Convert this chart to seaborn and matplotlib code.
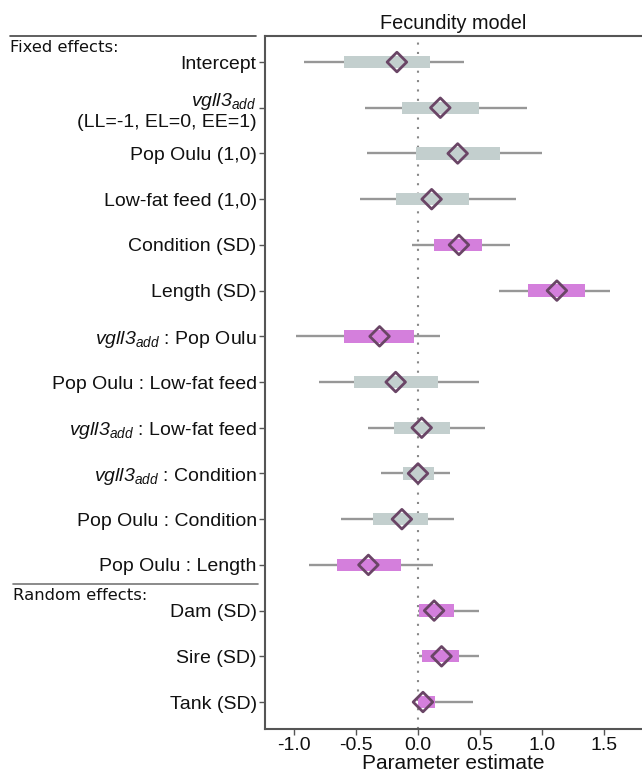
import matplotlib
matplotlib.use("Agg")
import matplotlib.pyplot as plt
import seaborn as sns
import pandas as pd
import numpy as np
from matplotlib.lines import Line2D

labels = [
    "Intercept",
    "$vgll3_{add}$\n(LL=-1, EL=0, EE=1)",
    "Pop Oulu (1,0)",
    "Low-fat feed (1,0)",
    "Condition (SD)",
    "Length (SD)",
    "$vgll3_{add}$ : Pop Oulu",
    "Pop Oulu : Low-fat feed",
    "$vgll3_{add}$ : Low-fat feed",
    "$vgll3_{add}$ : Condition",
    "Pop Oulu : Condition",
    "Pop Oulu : Length",
    "Dam (SD)",
    "Sire (SD)",
    "Tank (SD)",
]
estimate = [-0.17, 0.18, 0.32, 0.11, 0.33, 1.12, -0.31, -0.18, 0.03, 0.00, -0.13, -0.40, 0.13, 0.19, 0.04]
ci95_low = [-0.92, -0.43, -0.41, -0.47, -0.05, 0.65, -0.98, -0.80, -0.40, -0.30, -0.62, -0.88, 0.00, 0.01, 0.00]
ci95_high = [0.37, 0.88, 1.00, 0.79, 0.74, 1.55, 0.18, 0.49, 0.54, 0.26, 0.29, 0.12, 0.49, 0.49, 0.44]
ci50_low = [-0.60, -0.13, -0.02, -0.18, 0.13, 0.89, -0.60, -0.52, -0.19, -0.12, -0.36, -0.65, 0.01, 0.03, 0.00]
ci50_high = [0.10, 0.49, 0.66, 0.41, 0.52, 1.35, -0.03, 0.16, 0.26, 0.13, 0.08, -0.14, 0.29, 0.33, 0.14]
significant = [False, False, False, False, True, True, True, False, False, False, False, True, True, True, True]
xticks = [-1.0, -0.5, 0.0, 0.5, 1.0, 1.5]

sns.set_theme(style="ticks")
plt.rcParams['font.family'] = ['Liberation Sans', 'DejaVu Sans']
plt.rcParams['mathtext.fontset'] = 'custom'
plt.rcParams['mathtext.rm'] = 'Liberation Sans:italic'
plt.rcParams['mathtext.it'] = 'Liberation Sans:italic'
plt.rcParams['mathtext.default'] = 'it'

df = pd.DataFrame({
    "label": labels, "est": estimate, "lo95": ci95_low, "hi95": ci95_high,
    "lo50": ci50_low, "hi50": ci50_high, "sig": significant,
})
df["pos"] = np.arange(len(df))

grey_box = "#C3CFCE"
pink_box = "#D47FDC"
whisker_c = "#979797"
diamond_c = "#6A4566"
spine_c = "#555555"

fig = plt.figure(figsize=(6.42, 7.73), dpi=100)
ax = fig.add_axes([265 / 642, 1 - 729 / 773, 1 - 265 / 642, (729 - 36) / 773])

ax.axvline(0, color="#888888", lw=1.5, ls=(0, (1, 3.5)), zorder=1)
ax.hlines(df["pos"], df["lo95"], df["hi95"], color=whisker_c, lw=1.7, zorder=2)
ax.barh(df["pos"], df["hi50"] - df["lo50"], left=df["lo50"], height=0.27,
        color=[pink_box if s else grey_box for s in df["sig"]], zorder=3, linewidth=0)
sns.scatterplot(data=df, x="est", y="pos", marker="D", s=100, facecolor="none",
                edgecolor=diamond_c, linewidth=2.0, zorder=4, ax=ax, legend=False)

ax.set_ylim(len(df) - 1 + 0.59, -0.57)
ax.set_xlim((265 - 418) / 124, (642 - 418) / 124)
ax.set_yticks(df["pos"])
ax.set_yticklabels(df["label"], fontsize=14, color="#111111")
ax.set_xticks(xticks)
ax.set_xticklabels([f"{t:.1f}" for t in xticks], fontsize=14, color="#111111")
ax.set_xlabel("Parameter estimate", fontsize=15, labelpad=0, color="#111111")
ax.set_ylabel("")
ax.set_title("Fecundity model", fontsize=14.3, pad=5, color="#111111")
ax.tick_params(axis="both", length=4, width=1, color=spine_c, pad=2)

for side in ["left", "bottom", "top"]:
    ax.spines[side].set_color(spine_c)
    ax.spines[side].set_linewidth(1.5)
ax.spines["right"].set_visible(False)

fig.add_artist(Line2D([10 / 642, 256 / 642], [1 - 36 / 773, 1 - 36 / 773],
                      color="#444444", lw=1.2, transform=fig.transFigure))
fig.add_artist(Line2D([13 / 642, 258 / 642], [1 - 584 / 773, 1 - 584 / 773],
                      color="#777777", lw=1.2, transform=fig.transFigure))
fig.text(10 / 642, 1 - 47 / 773, "Fixed effects:", family="DejaVu Sans", fontsize=11.8,
         va="center", ha="left", color="#111111")
fig.text(13 / 642, 1 - 595 / 773, "Random effects:", family="DejaVu Sans", fontsize=11.8,
         va="center", ha="left", color="#111111")

fig.savefig("out.png", dpi=100)
